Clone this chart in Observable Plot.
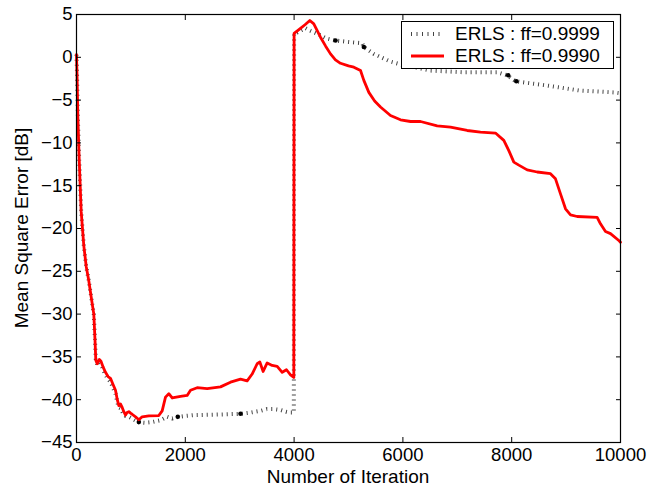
<!DOCTYPE html>
<html><head><meta charset="utf-8">
<script src="https://cdn.jsdelivr.net/npm/d3@7"></script>
<script src="https://cdn.jsdelivr.net/npm/@observablehq/plot@0.6"></script>
<style>
body{margin:0;background:#fff;}
#wrap{position:relative;width:662px;height:488px;font-family:"Liberation Sans",Arial,sans-serif;color:#000;}
#wrap svg text{font-size:18.5px !important;font-family:"Liberation Sans",Arial,sans-serif;fill:#000;}
#legend{position:absolute;left:401px;top:21px;width:211px;height:46px;border:1px solid #000;background:#fff;font-size:19px;}
.row{position:absolute;left:0;height:22px;display:flex;align-items:center;white-space:nowrap;}
.row svg{margin-left:9px;margin-right:11px;}
.xlab{position:absolute;left:76px;width:544px;top:467px;text-align:center;font-size:19px;line-height:20px;white-space:nowrap;}
.ylab{position:absolute;left:22px;top:228px;font-size:19px;line-height:20px;white-space:nowrap;transform:translate(-50%,-50%) rotate(-90deg);}
</style></head>
<body><div id="wrap"></div>
<script>
const seriesLabels = ["ERLS : ff=0.9999", "ERLS : ff=0.9990"];
const xLabel = "Number of Iteration";
const yLabel = "Mean Square Error [dB]";
const xTicks = [0, 2000, 4000, 6000, 8000, 10000];
const yTicks = [5, 0, -5, -10, -15, -20, -25, -30, -35, -40, -45];

// ff = 0.9990 (red)
const iter9990 = [0,10,25,50,86,134,180,226,270,318,340,355,380,420,450,490,533,580,625,670,717,750,778,810,840,870,901,930,962,1000,1023,1085,1146,1207,1330,1513,1575,1636,1697,1759,1912,2034,2096,2218,2402,2647,2831,3015,3137,3229,3321,3370,3431,3505,3597,3689,3781,3860,3934,3995,4000,4100,4200,4289,4362,4485,4580,4669,4760,4853,5000,5098,5221,5282,5374,5480,5588,5772,5956,6140,6324,6630,6875,7181,7426,7702,7855,7947,8039,8131,8284,8468,8713,8805,8897,8989,9081,9203,9571,9632,9724,9816,9969,10000];
const mse9990 = [0.3,-2,-7,-12,-18,-22,-24.5,-26.1,-28,-30,-33,-35.4,-35.8,-35.3,-35.5,-36.2,-36.8,-37.3,-37.5,-38.2,-38.9,-40,-40.7,-40.5,-40.9,-41.4,-41.8,-41.5,-41.4,-41.6,-41.7,-42.0,-42.35,-42.0,-41.9,-41.85,-41.3,-39.7,-39.3,-39.8,-39.6,-39.5,-38.9,-38.6,-38.7,-38.5,-37.95,-37.6,-37.8,-37.0,-35.8,-35.6,-36.7,-35.7,-36.0,-36.1,-36.8,-36.5,-37.1,-37.4,2.8,3.3,3.8,4.3,3.9,2.35,1.3,0.4,-0.3,-0.7,-1.0,-1.15,-1.55,-2.7,-4.1,-5.1,-5.8,-6.8,-7.3,-7.5,-7.5,-8.0,-8.15,-8.55,-8.75,-8.85,-9.7,-10.9,-12.25,-12.6,-13.15,-13.4,-13.6,-14.2,-15.95,-17.7,-18.4,-18.6,-18.7,-19.45,-20.35,-20.6,-21.4,-21.6];

// ff = 0.9999 (black dotted)
const iter9999 = [0,10,25,50,86,134,180,226,270,318,340,355,380,420,450,490,533,580,625,670,717,750,778,810,840,870,901,960,1050,1146,1250,1400,1545,1667,1760,1880,2000,2157,2500,2770,3015,3200,3383,3500,3628,3750,3850,3934,3995,4000,4056,4209,4300,4423,4600,4761,5037,5252,5282,5466,5600,5772,6000,6195,6507,7120,7733,7917,8070,8300,8652,9265,9877,10000];
const mse9999 = [0.3,-2,-7,-12,-18,-22,-24.5,-26.1,-28,-30,-33,-35.3,-35.9,-35.6,-35.8,-36.5,-37.1,-37.6,-37.9,-38.6,-39.3,-40.3,-40.9,-41.0,-41.4,-41.7,-41.9,-42.0,-42.3,-42.65,-42.7,-42.6,-42.4,-42.0,-42.2,-42.0,-41.9,-41.8,-41.75,-41.7,-41.65,-41.5,-41.3,-41.1,-41.1,-41.2,-41.4,-41.5,-41.5,2.8,2.9,3.4,3.1,2.75,2.2,1.96,1.77,1.65,1.2,0.4,0.0,-0.5,-0.9,-1.15,-1.55,-1.75,-1.75,-2.1,-2.8,-3.0,-3.3,-3.9,-4.1,-4.2];

// heavy dots visible on the dotted curve
const dotIter = [1146,1862,3015,4761,5282,7935,8085];
const dotMse = [-42.6,-42.0,-41.65,1.96,1.2,-2.1,-2.8];

const red = iter9990.map((x, i) => ({x, y: mse9990[i]}));
const blk = iter9999.map((x, i) => ({x, y: mse9999[i]}));
const dots = dotIter.map((x, i) => ({x, y: dotMse[i]}));

const plot = Plot.plot({
  width: 662, height: 488,
  marginLeft: 76, marginRight: 42, marginTop: 14, marginBottom: 46,
  style: {fontFamily: '"Liberation Sans", Arial, sans-serif', fontSize: "18.5px", color: "#000", background: "#fff"},
  x: {domain: [0, 10000]},
  y: {domain: [-45, 5]},
  marks: [
    Plot.line(blk, {x: "x", y: "y", stroke: "#444", strokeWidth: 4, strokeDasharray: "1 4", strokeLinecap: "butt"}),
    Plot.dot(dots, {x: "x", y: "y", r: 2.3, fill: "#000", stroke: "none"}),
    Plot.line(red, {x: "x", y: "y", stroke: "#ff0000", strokeWidth: 2.8}),
    Plot.frame({stroke: "#000", strokeWidth: 1.2}),
    Plot.axisX({ticks: xTicks, tickSize: -5, tickPadding: 10, tickFormat: d => String(d), label: null}),
    Plot.axisX({ticks: xTicks, anchor: "top", tickSize: -5, tickFormat: () => "", label: null}),
    Plot.axisY({ticks: yTicks, tickSize: -5, tickPadding: 9, label: null}),
    Plot.axisY({ticks: yTicks, anchor: "right", tickSize: -5, tickFormat: () => "", label: null})
  ]
});
const wrap = document.getElementById("wrap");
wrap.appendChild(plot);
plot.style.position = "absolute"; plot.style.left = "0"; plot.style.top = "0";

const xl = document.createElement("div"); xl.className = "xlab"; xl.textContent = xLabel; wrap.appendChild(xl);
const yl = document.createElement("div"); yl.className = "ylab"; yl.textContent = yLabel; wrap.appendChild(yl);

const legend = document.createElement("div");
legend.id = "legend";
const samples = [
  '<line x1="0" y1="11" x2="33" y2="11" stroke="#444" stroke-width="4" stroke-dasharray="1 4.5"/>',
  '<line x1="0" y1="11" x2="33" y2="11" stroke="#ff0000" stroke-width="2.8"/>'
];
seriesLabels.forEach((t, i) => {
  const r = document.createElement("div");
  r.className = "row";
  r.style.top = (1 + i * 22) + "px";
  r.innerHTML = `<svg width="33" height="22">${samples[i]}</svg><span>${t}</span>`;
  legend.appendChild(r);
});
wrap.appendChild(legend);
</script></body></html>
